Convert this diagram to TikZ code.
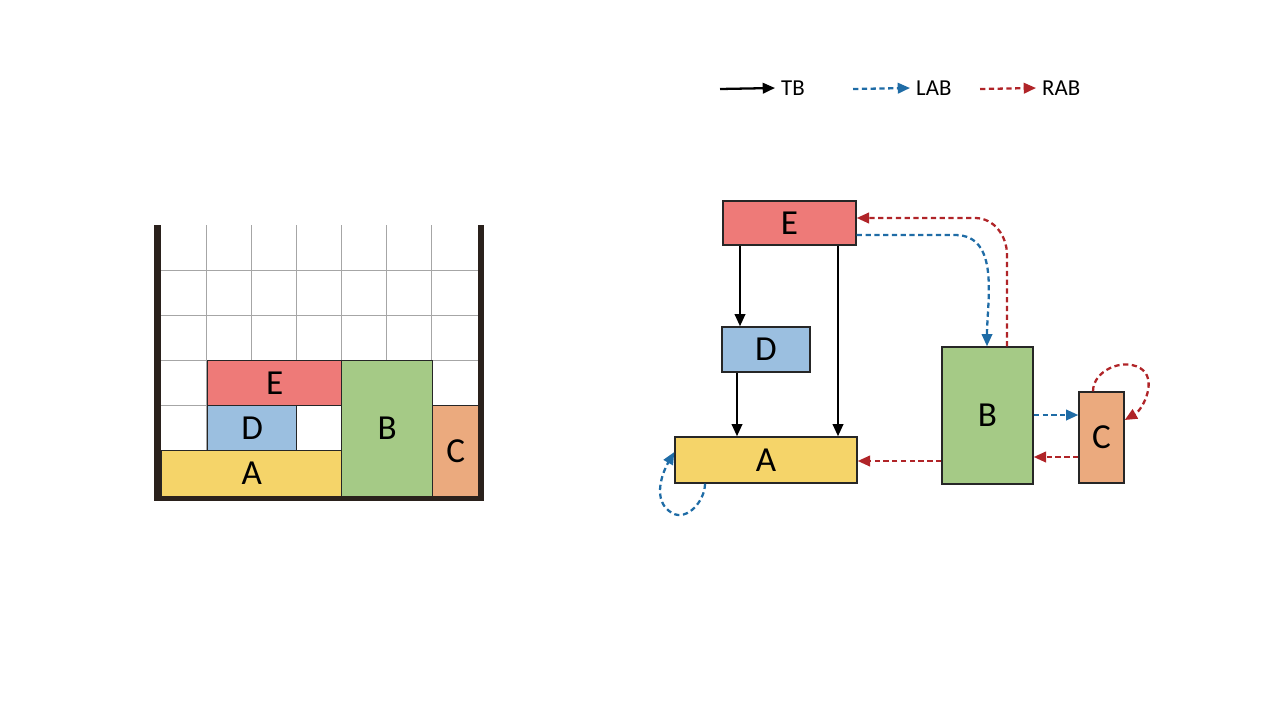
\documentclass[tikz,border=0pt]{standalone}
\usepackage{fontspec}
\setmainfont{Carlito}
\usetikzlibrary{positioning,arrows.meta}
\definecolor{colE}{HTML}{EE7A78}
\definecolor{colD}{HTML}{9BBFE0}
\definecolor{colA}{HTML}{F5D469}
\definecolor{colB}{HTML}{A5CA86}
\definecolor{colC}{HTML}{EBAA7E}
\definecolor{labColor}{HTML}{1F6CA6}
\definecolor{rabColor}{HTML}{B02428}
\definecolor{wallColor}{HTML}{2A211C}
\tikzstyle{screen} = [x = 0.02cm, y = -0.02cm]
\tikzstyle{block} = [draw=black!85, thick, inner sep=0pt, font=\fontsize{20}{20}\selectfont]
\tikzstyle{tb} = [thick, -{Triangle[length=7pt,width=6pt]}, line width=1.3pt]
\tikzstyle{lab} = [labColor, line width=1.3pt, dash pattern=on 3pt off 2pt, -{Triangle[length=7pt,width=6pt]}]
\tikzstyle{rab} = [rabColor, line width=1.3pt, dash pattern=on 3pt off 2pt, -{Triangle[length=7pt,width=6pt]}]
\tikzstyle{gridLine} = [color=black!35, thin]
\newcommand{\blockNode}[6]{\node [block, fill=#6, minimum width=#4*0.02cm, minimum height=#5*0.02cm] (#1) at (#2,#3) {#1};}
\begin{document}
\begin{tikzpicture}[screen]
  \useasboundingbox (0,0) rectangle (1280,720);
  % grid
  \foreach \gx in {206,251,296,341,386,431} \draw [gridLine] (\gx,225) -- (\gx,496);
  \foreach \gy in {270,315,360,405,450} \draw [gridLine] (160,\gy) -- (478,\gy);
  % left packing
  \node [block, fill=colA, minimum width=180*0.02cm, minimum height=46*0.02cm, anchor=north west] (lA) at (161,450) {A};
  \node [block, fill=colD, minimum width=89*0.02cm, minimum height=45*0.02cm, anchor=north west] (lD) at (207,405) {D};
  \node [block, fill=colE, minimum width=134*0.02cm, minimum height=45*0.02cm, anchor=north west] (lE) at (207,360) {E};
  \node [block, fill=colB, minimum width=91*0.02cm, minimum height=136*0.02cm, anchor=north west] (lB) at (341,360) {B};
  \node [block, fill=colC, minimum width=46*0.02cm, minimum height=91*0.02cm, anchor=north west] (lC) at (432,405) {C};
  \fill [wallColor] (154,225) rectangle (161,501);
  \fill [wallColor] (478,225) rectangle (484,501);
  \fill [wallColor] (154,496) rectangle (484,501);

  % legend
  \node [font=\fontsize{13}{13}\selectfont, anchor=west] (tbText) at (775,88) {TB};
  \node [font=\fontsize{13}{13}\selectfont, anchor=west] (labText) at (910,88) {LAB};
  \node [font=\fontsize{13}{13}\selectfont, anchor=west] (rabText) at (1036,88) {RAB};
  \coordinate (tbStart) at (720,89);
  \coordinate (labStart) at (853,89);
  \coordinate (rabStart) at (980,89);
  \draw [tb] (tbStart) -- (tbText.west);
  \draw [lab] (labStart) -- (labText.west);
  \draw [rab] (rabStart) -- (rabText.west);

  % graph
  \blockNode{E}{789.5}{223}{133}{44}{colE}
  \blockNode{D}{766}{349.5}{88}{45}{colD}
  \blockNode{A}{766}{460}{182}{46}{colA}
  \blockNode{B}{987.5}{415.5}{91}{137}{colB}
  \blockNode{C}{1101.5}{437.5}{45}{91}{colC}

  \draw [tb] (E.south -| 740,0) -- (D.north -| 740,0);
  \draw [tb] (E.south -| 838,0) -- (A.north -| 838,0);
  \draw [tb] (D.south -| 737,0) -- (A.north -| 737,0);

  \draw [lab] (E.east |- 0,235) -- (955,235) to [out=0, in=90] (B.north -| 987,0);
  \draw [rab] (B.north -| 1007,0) -- (1007,255) to [out=90, in=0] (975,218) -- (E.east |- 0,218);
  \draw [lab] (B.east |- 0,415) -- (C.west |- 0,415);
  \draw [rab] (C.west |- 0,457) -- (B.east |- 0,457);
  \draw [rab] (B.west |- 0,461) -- (A.east |- 0,461);
  \draw [lab] (A.south -| 705,0) to [out=-90, in=-30] (672,513) to [out=150, in=-120] (A.west |- 0,452);
  \draw [rab] (C.north -| 1093,0) to [out=90, in=150] (1140,368) to [out=-30, in=30] (C.east |- 0,420);
\end{tikzpicture}
\end{document}
